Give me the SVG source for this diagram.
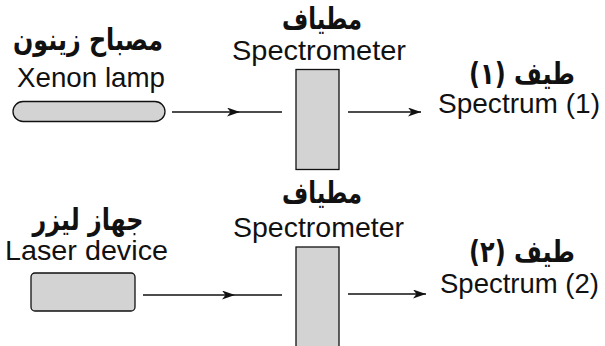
<svg xmlns="http://www.w3.org/2000/svg" width="605" height="346" viewBox="0 0 605 346">
<style>
.ar{font-family:"DejaVu Sans",sans-serif;font-weight:bold;fill:#111;font-size:30px;}
.en{font-family:"Liberation Sans",Arial,sans-serif;fill:#111;font-size:28px;}
.box{fill:#d3d3d3;stroke:#111;stroke-width:1.3;}
.ln{stroke:#111;stroke-width:1.3;fill:none;}
</style>
<defs>
<marker id="ah" viewBox="0 0 13 9" refX="13" refY="4.5" markerWidth="13" markerHeight="9" markerUnits="userSpaceOnUse" orient="auto">
<path d="M0,0 L13,4.5 L0,9 L3.5,4.5 Z" fill="#111"/>
</marker>
</defs>
<rect width="605" height="346" fill="#fff"/>
<g id="xenon-lamp">
<text class="ar" x="88" y="50" text-anchor="middle" direction="rtl" textLength="150" lengthAdjust="spacingAndGlyphs">مصباح زينون</text>
<text class="en" x="17" y="87" textLength="148" lengthAdjust="spacingAndGlyphs">Xenon lamp</text>
<rect class="box" x="13" y="101.5" width="152" height="20" rx="10"/>
</g>
<g id="spectrometer-1">
<text class="ar" x="322" y="29" text-anchor="middle" direction="rtl" textLength="80" lengthAdjust="spacingAndGlyphs">مطياف</text>
<text class="en" x="232" y="60" textLength="174" lengthAdjust="spacingAndGlyphs">Spectrometer</text>
<rect class="box" x="296" y="69.5" width="43" height="100"/>
</g>
<g id="spectrum-1">
<text class="ar" x="522" y="84" font-size="27" text-anchor="middle" direction="rtl" textLength="106" lengthAdjust="spacingAndGlyphs">طيف (١)</text>
<text class="en" x="438" y="113" textLength="162" lengthAdjust="spacingAndGlyphs">Spectrum (1)</text>
</g>
<g id="laser-device">
<text class="ar" x="88" y="230" text-anchor="middle" direction="rtl" textLength="111" lengthAdjust="spacingAndGlyphs">جهاز ليزر</text>
<text class="en" x="5" y="260" textLength="163" lengthAdjust="spacingAndGlyphs">Laser device</text>
<rect class="box" x="31" y="273" width="104" height="38" rx="4"/>
</g>
<g id="spectrometer-2">
<text class="ar" x="322" y="203" text-anchor="middle" direction="rtl" textLength="80" lengthAdjust="spacingAndGlyphs">مطياف</text>
<text class="en" x="233" y="237" textLength="171" lengthAdjust="spacingAndGlyphs">Spectrometer</text>
<rect class="box" x="296" y="247" width="43" height="105"/>
</g>
<g id="spectrum-2">
<text class="ar" x="522" y="262" font-size="27" text-anchor="middle" direction="rtl" textLength="106" lengthAdjust="spacingAndGlyphs">طيف (٢)</text>
<text class="en" x="440" y="293" textLength="159" lengthAdjust="spacingAndGlyphs">Spectrum (2)</text>
</g>
<g id="connectors">
<path class="ln" d="M172,112 L240,112 L282,112" marker-mid="url(#ah)"/>
<path class="ln" d="M348,112 L421,112" marker-end="url(#ah)"/>
<path class="ln" d="M143,295 L235,295 L282,295" marker-mid="url(#ah)"/>
<path class="ln" d="M348,294 L426,294" marker-end="url(#ah)"/>
</g>
</svg>
